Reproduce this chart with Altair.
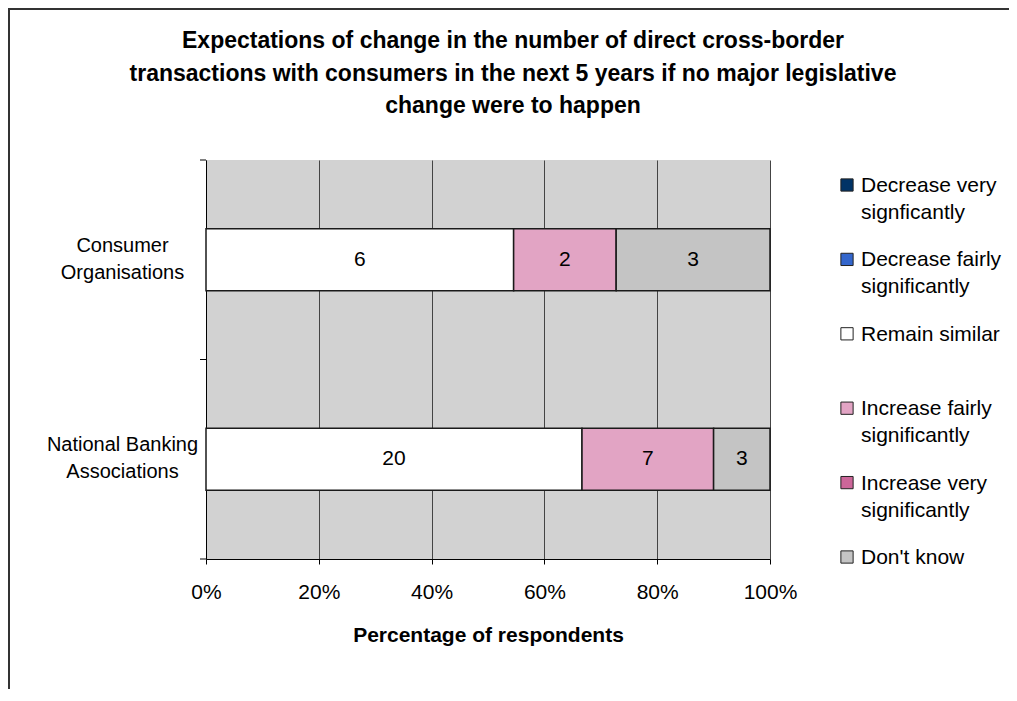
import altair as alt
import pandas as pd

orgs = ["Consumer Organisations", "National Banking Associations"]
categories = [
    "Decrease very signficantly",
    "Decrease fairly significantly",
    "Remain similar",
    "Increase fairly significantly",
    "Increase very significantly",
    "Don't know",
]
legend_labels = [
    "Decrease very\nsignficantly",
    "Decrease fairly\nsignificantly",
    "Remain similar",
    "Increase fairly\nsignificantly",
    "Increase very\nsignificantly",
    "Don't know",
]
consumer_values = [0, 0, 6, 2, 0, 3]
banking_values = [0, 0, 20, 7, 0, 3]
colors = ["#003366", "#3366CC", "#FFFFFF", "#E2A4C4", "#CC6699", "#C4C4C4"]
x_ticks = [0, 0.2, 0.4, 0.6, 0.8, 1.0]

rows = []
for org, vals in zip(orgs, [consumer_values, banking_values]):
    for i, (c, v) in enumerate(zip(categories, vals)):
        rows.append({"org": org, "cat": c, "idx": i, "value": v})
df = pd.DataFrame(rows)
legend_df = pd.DataFrame({"cat": categories, "label": legend_labels})
org_df = pd.DataFrame({"org": orgs})

FONT = "Liberation Sans"
FS = 21
W, H = 564, 399

color_scale = alt.Scale(domain=categories, range=colors)
y_scale = alt.Scale(domain=orgs, paddingInner=0, paddingOuter=0)
y_axis = alt.Axis(
    title=None,
    labelExpr="datum.value == 'Consumer Organisations' ? ['Consumer', 'Organisations'] : ['National Banking', 'Associations']",
    labelFont=FONT,
    labelFontSize=20,
    labelColor="#000",
    labelAlign="center",
    labelBaseline="middle",
    labelLineHeight=27,
    labelOffset=-14,
    labelPadding=84,
    ticks=False,
    domainColor="#000",
    grid=False,
)

base = alt.Chart(df).transform_filter("datum.value > 0").transform_stack(
    stack="value",
    as_=["x0", "x1"],
    groupby=["org"],
    offset="normalize",
    sort=[alt.SortField("idx", order="ascending")],
)

bars = base.mark_bar(
    height=alt.RelativeBandSize(0.31), stroke="#1a1a1a", strokeWidth=1.5
).encode(
    x=alt.X(
        "x0:Q",
        scale=alt.Scale(domain=[0, 1], nice=False),
        axis=alt.Axis(
            values=x_ticks,
            format="%",
            title="Percentage of respondents",
            titleFont=FONT,
            titleFontSize=FS,
            titleFontWeight="bold",
            titleColor="#000",
            titlePadding=22,
            labelFont=FONT,
            labelFontSize=FS,
            labelColor="#000",
            labelPadding=17,
            labelFlush=False,
            tickSize=5,
            tickColor="#000",
            domainColor="#000",
            grid=True,
            gridColor="#444",
            gridWidth=1,
        ),
    ),
    x2="x1:Q",
    y=alt.Y("org:N", sort=orgs, scale=y_scale, axis=y_axis),
    color=alt.Color("cat:N", scale=color_scale, legend=None),
)

labels = base.transform_calculate(mid="(datum.x0 + datum.x1) / 2").mark_text(
    font=FONT, fontSize=FS, color="#000"
).encode(
    x=alt.X("mid:Q"),
    y=alt.Y("org:N", sort=orgs, scale=y_scale, axis=y_axis),
    text="value:Q",
)

tick_top = alt.Chart(org_df).mark_rule(color="#000", strokeWidth=1).encode(
    y=alt.Y("org:N", sort=orgs, scale=y_scale, bandPosition=0, axis=y_axis),
    x=alt.value(-6),
    x2=alt.value(0),
)
tick_bot = alt.Chart(org_df).mark_rule(color="#000", strokeWidth=1).encode(
    y=alt.Y("org:N", sort=orgs, scale=y_scale, bandPosition=1, axis=y_axis),
    x=alt.value(-6),
    x2=alt.value(0),
)

main = alt.layer(bars, labels, tick_top, tick_bot)

leg_y = alt.Y(
    "cat:N",
    sort=categories,
    scale=alt.Scale(type="point", domain=categories, range=[25, 397], padding=0),
    axis=None,
)
leg_sq = alt.Chart(legend_df).mark_square(
    size=150, stroke="#222", strokeWidth=1, opacity=1
).encode(
    x=alt.value(641),
    y=leg_y,
    color=alt.Color("cat:N", scale=color_scale, legend=None),
)
leg_txt = alt.Chart(legend_df).mark_text(
    font=FONT, fontSize=FS, color="#000", align="left", baseline="alphabetic",
    lineBreak="\n", lineHeight=27, dy=7
).encode(
    x=alt.value(655),
    y=leg_y,
    text="label:N",
)
legend = alt.layer(leg_sq, leg_txt)

frame = alt.Chart(pd.DataFrame({"a": [0]})).mark_rect(
    fillOpacity=0, stroke="#333", strokeWidth=2
).encode(
    x=alt.value(-197), x2=alt.value(1200), y=alt.value(-151), y2=alt.value(900)
)

chart = alt.layer(main, legend, frame).resolve_scale(y="independent").properties(
    width=W,
    height=H,
    background="white",
    autosize=alt.AutoSizeParams(type="none"),
    padding={"left": 198, "top": 152, "right": 239, "bottom": 130},
    title=alt.TitleParams(
        text=[
            "Expectations of change in the number of direct cross-border",
            "transactions with consumers in the next 5 years if no major legislative",
            "change were to happen",
        ],
        font=FONT,
        fontSize=23,
        fontWeight="bold",
        color="#000",
        lineHeight=32.5,
        anchor="middle",
        frame="group",
        dx=25,
        offset=0,
        dy=110,
    ),
).configure_view(fill="#D2D2D2", stroke=None)

chart.save("out.html", embed_options={"renderer": "svg", "actions": False})
